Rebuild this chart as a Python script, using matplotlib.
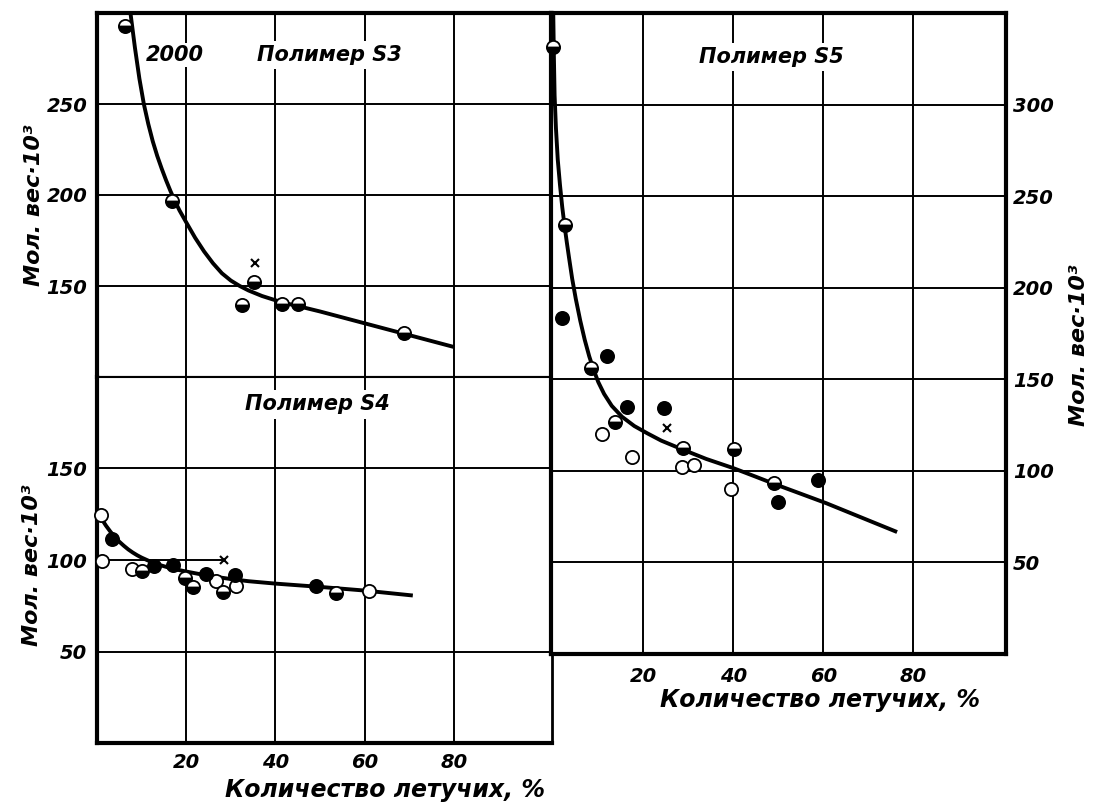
import matplotlib
matplotlib.use('Agg')
import matplotlib.pyplot as plt

# ---------------- data ----------------
# Polymer S3
s3_half_x = [6.3, 16.9, 32.5, 35.1, 41.5, 45.0, 68.9]
s3_half_y = [293, 196.7, 139.6, 152, 140, 140, 124]
s3_cross_x = [35.4]
s3_cross_y = [162.6]
s3_curve_x = [7.5, 8.5, 9.5, 10.5, 11.5, 12.5, 13.5, 14.5, 15.5, 16.5, 17.5, 18.5, 20, 22, 24, 26,
              28, 30, 32, 34, 37, 41.5, 45, 50, 60, 70, 80]
s3_curve_y = [300, 281, 264, 250, 239, 229.5, 221.5, 214.5, 208, 202, 196.5, 191.5, 185, 176.5, 169,
              162.5, 157, 153, 150, 147.5, 144.5, 141, 139, 136, 129.5, 123, 116.5]

# Polymer S4
s4_open_x = [1.0, 1.1, 7.9, 26.7, 31.1, 60.9]
s4_open_y = [124.7, 99.5, 95.2, 88.5, 85.6, 83.3]
s4_fill_x = [3.3, 12.8, 17.1, 24.5, 30.9, 49.1]
s4_fill_y = [111.6, 96.5, 97.0, 92.3, 91.7, 85.6]
s4_half_x = [10.1, 19.8, 21.6, 28.3, 53.5]
s4_half_y = [94.2, 90.4, 85.0, 82.7, 82.1]
s4_cross_x = [28.5]
s4_cross_y = [100]
s4_curve_x = [1, 2, 3, 4, 5, 6, 7, 8, 9, 10, 12, 14, 16, 18, 20, 23, 26, 30, 34, 40, 50, 60, 70.8]
s4_curve_y = [122.6, 118.8, 115.5, 112.6, 110, 107.8, 105.8, 104.1, 102.6, 101.3, 99.1, 97.3,
              95.9, 94.7, 93.7, 92.3, 91.0, 89.6, 88.4, 87.1, 85.3, 83.3, 80.6]

# Polymer S5
s5_half_x = [0.0, 2.5, 8.4, 13.8, 28.9, 40.1, 49.1]
s5_half_y = [331.5, 234.2, 156, 126.8, 112.3, 111.7, 93.5]
s5_fill_x = [2.0, 12.0, 16.3, 24.5, 50.0, 58.9]
s5_fill_y = [183.4, 162.7, 135, 134.1, 83.1, 95]
s5_open_x = [10.8, 17.6, 28.7, 31.2, 39.6]
s5_open_y = [120, 107.7, 102.2, 103.2, 90]
s5_cross_x = [25.3]
s5_cross_y = [123.2]
s5_curve_x = [0.0, 0.15, 0.3, 0.6, 1.0, 1.5, 2.0, 2.5, 3.0, 3.5, 4.2, 5.0, 6.0, 7.0, 8.0, 9.0, 10.0,
              11.3, 13, 15.3, 18, 20.9, 24, 28.9, 34, 40, 45, 49.5, 55, 60.6, 68, 76.4]
s5_curve_y = [350, 325, 305, 287, 270, 256, 244, 234, 225, 216.5, 205, 194, 182, 171.5, 162.5, 155,
              148.5, 142, 135.5, 129.5, 124.5, 120.5, 116.5, 111.5, 106.5, 101.5, 96.8, 92.5, 87.5,
              82.4, 75, 66.6]

x_ticks = [20, 40, 60, 80]
s3_yticks = [150, 200, 250]
s4_yticks = [50, 100, 150]
s5_yticks = [50, 100, 150, 200, 250, 300]

ylabel_text = 'Мол. вес·10³'
xlabel_text = 'Количество летучих, %'

# ---------------- figure ----------------
plt.rcParams['font.family'] = ['DejaVu Sans']
plt.rcParams['font.style'] = 'italic'
plt.rcParams['font.weight'] = 'bold'

W, H = 1096, 807
fig = plt.figure(figsize=(W / 100, H / 100), dpi=100)
fig.patch.set_facecolor('white')


def ax_px(l, t, r, b):
    return fig.add_axes([l / W, 1 - b / H, (r - l) / W, (b - t) / H])


ax3 = ax_px(97, 13, 552, 377)
ax4 = ax_px(97, 377, 552, 743)
ax5 = ax_px(551, 13, 1006, 654)

GRID_LW = 1.4
CURVE_LW = 2.8
MS = 9.5
MEW = 1.3
TICK_FS = 14


def mk_half(ax, x, y):
    ax.plot(x, y, ls='none', marker='o', ms=MS, mew=MEW, mec='black',
            mfc='black', mfcalt='white', fillstyle='bottom', zorder=5, clip_on=False)


def mk_fill(ax, x, y):
    ax.plot(x, y, ls='none', marker='o', ms=MS, mew=MEW, mec='black',
            mfc='black', zorder=5, clip_on=False)


def mk_open(ax, x, y):
    ax.plot(x, y, ls='none', marker='o', ms=MS, mew=MEW, mec='black',
            mfc='white', zorder=5, clip_on=False)


def mk_cross(ax, x, y):
    ax.plot(x, y, ls='none', marker='x', ms=6, mew=1.5, color='black', zorder=5)


def curve(ax, x, y):
    ax.plot(x, y, color='black', lw=CURVE_LW, solid_capstyle='butt',
            solid_joinstyle='round', zorder=3)


for ax in (ax3, ax4, ax5):
    ax.set_xticks(x_ticks)
    ax.tick_params(length=0, labelsize=TICK_FS, pad=7)
    ax.grid(axis='x', color='black', lw=GRID_LW)
    ax.set_axisbelow(True)

# ---- S3 ----
ax3.set_xlim(0, 102)
ax3.set_ylim(100, 300)
ax3.set_yticks(s3_yticks)
ax3.grid(axis='y', color='black', lw=GRID_LW)
ax3.tick_params(labelbottom=False)
curve(ax3, s3_curve_x, s3_curve_y)
mk_half(ax3, s3_half_x, s3_half_y)
mk_cross(ax3, s3_cross_x, s3_cross_y)
ax3.text(17.5, 277, '2000', ha='center', va='center', fontsize=15,
         bbox=dict(fc='white', ec='none', pad=1.5), zorder=4)
ax3.text(52, 277, 'Полимер S3', ha='center', va='center', fontsize=15,
         bbox=dict(fc='white', ec='none', pad=3), zorder=4)
ax3.spines['left'].set_linewidth(3)
ax3.spines['top'].set_linewidth(3)
ax3.spines['bottom'].set_linewidth(1.5)
ax3.spines['right'].set_linewidth(2)

# ---- S4 ----
ax4.set_xlim(0, 102)
ax4.set_ylim(0, 200)
ax4.set_yticks(s4_yticks)
ax4.axhline(50, color='black', lw=GRID_LW, zorder=1)
ax4.axhline(150, color='black', lw=GRID_LW, zorder=1)
ax4.hlines(100, 0, 28.5, color='black', lw=GRID_LW, zorder=1)
curve(ax4, s4_curve_x, s4_curve_y)
mk_open(ax4, s4_open_x, s4_open_y)
mk_fill(ax4, s4_fill_x, s4_fill_y)
mk_half(ax4, s4_half_x, s4_half_y)
mk_cross(ax4, s4_cross_x, s4_cross_y)
ax4.text(49.5, 185, 'Полимер S4', ha='center', va='center', fontsize=15,
         bbox=dict(fc='white', ec='none', pad=3), zorder=4)
ax4.spines['left'].set_linewidth(3)
ax4.spines['bottom'].set_linewidth(3)
ax4.spines['top'].set_linewidth(1.5)
ax4.spines['right'].set_linewidth(2)

# ---- S5 ----
ax5.set_xlim(-0.5, 100.6)
ax5.set_ylim(0, 350)
ax5.set_yticks(s5_yticks)
ax5.grid(axis='y', color='black', lw=GRID_LW)
ax5.yaxis.tick_right()
ax5.tick_params(axis='y', pad=5)
ax5.tick_params(axis='x', pad=9)
curve(ax5, s5_curve_x, s5_curve_y)
mk_half(ax5, s5_half_x, s5_half_y)
mk_fill(ax5, s5_fill_x, s5_fill_y)
mk_open(ax5, s5_open_x, s5_open_y)
mk_cross(ax5, s5_cross_x, s5_cross_y)
ax5.text(48.5, 326, 'Полимер S5', ha='center', va='center', fontsize=15,
         bbox=dict(fc='white', ec='none', pad=3), zorder=4)
for s in ax5.spines.values():
    s.set_linewidth(3)

# ---- axis titles ----
fig.text(34 / W, 1 - 205 / H, ylabel_text, rotation=90, ha='center', va='center', fontsize=16)
fig.text(32 / W, 1 - 565 / H, ylabel_text, rotation=90, ha='center', va='center', fontsize=16)
fig.text(1079 / W, 1 - 345 / H, ylabel_text, rotation=90, ha='center', va='center', fontsize=16)
fig.text(385 / W, 1 - 790 / H, xlabel_text, ha='center', va='center', fontsize=17)
fig.text(820 / W, 1 - 700 / H, xlabel_text, ha='center', va='center', fontsize=17)

fig.savefig('out.png', dpi=100, facecolor='white')
